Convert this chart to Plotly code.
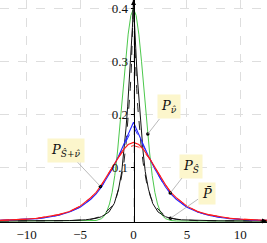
import numpy as np
import plotly.graph_objects as go

# ---- data (x >= 0 half, curves are symmetric about 0) ----
green_x = [0, 0.25, 0.5, 0.75, 1.0, 1.25, 1.5, 1.75, 2.0, 2.25, 2.5, 2.75, 3.0, 3.5, 4.0, 5.0, 12.5]
green_y = [0.400, 0.387, 0.352, 0.301, 0.242, 0.183, 0.130, 0.086, 0.054, 0.032, 0.018, 0.009, 0.0044, 0.0009, 0.0001, 0.0, 0.0]

black_x = [0, 0.05, 0.1, 0.2, 0.3, 0.4, 0.55, 0.7, 0.9, 1.1, 1.4, 1.8, 2.3, 3.0, 3.5, 4.5, 6, 8, 10, 12.5]
black_y = [0.42, 0.39, 0.365, 0.325, 0.29, 0.26, 0.215, 0.175, 0.13, 0.093, 0.06, 0.033, 0.017, 0.008, 0.005, 0.0022, 0.0008, 0.0003, 0.0001, 0.00005]

blackd_x = [0, 0.05, 0.1, 0.2, 0.3, 0.4, 0.5, 0.7, 0.9, 1.2, 1.6, 2.0, 3.0, 4.0, 6.0, 12.5]
blackd_y = [0.42, 0.37, 0.34, 0.29, 0.25, 0.215, 0.19, 0.145, 0.11, 0.075, 0.045, 0.028, 0.009, 0.003, 0.0006, 0.00005]

blue_x = [0, 0.3, 0.6, 1.0, 1.4, 2.0, 2.5, 3.0, 3.5, 4.0, 5.0, 6.0, 7.0, 8.0, 9.0, 10.0, 11.0, 12.5]
blue_y = [0.186, 0.172, 0.158, 0.140, 0.122, 0.098, 0.080, 0.064, 0.051, 0.041, 0.026, 0.017, 0.011, 0.007, 0.0045, 0.003, 0.002, 0.0011]
blued_y = [0.178, 0.166, 0.154, 0.137, 0.121, 0.098, 0.080, 0.064, 0.051, 0.041, 0.026, 0.017, 0.011, 0.007, 0.0045, 0.003, 0.002, 0.0011]

red_x = [0, 0.5, 1.0, 1.5, 2.0, 2.5, 3.0, 3.5, 4.0, 5.0, 6.0, 7.0, 8.0, 9.0, 10.0, 11.0, 12.5]
red_y = [0.148, 0.144, 0.133, 0.118, 0.101, 0.084, 0.068, 0.054, 0.044, 0.028, 0.018, 0.012, 0.008, 0.0053, 0.0035, 0.0023, 0.0012]
redd_y = [0.142, 0.139, 0.130, 0.117, 0.101, 0.084, 0.068, 0.054, 0.044, 0.028, 0.018, 0.012, 0.008, 0.0053, 0.0035, 0.0023, 0.0012]

x_ticks = [-10, -5, 0, 5, 10]
y_ticks = [0.1, 0.2, 0.3, 0.4]

# label anchors: (text, curve, x position of dot, ax, ay)
labels = [
    ("<i>P</i><sub><i>ν̂</i></sub>", "green", 1.34, 21, -27),
    ("<i>P</i><sub><i>Ŝ</i>+<i>ν̂</i></sub>", "red", -3.1, -34, -36),
    ("<i>P</i><sub><i>Ŝ</i></sub>", "blue", 3.44, 21, -27),
    ("<i>P̄</i>", "black", 3.47, 36, -25),
]


def mirror(xs, ys):
    xs = np.asarray(xs, float)
    ys = np.asarray(ys, float)
    return np.concatenate([-xs[:0:-1], xs]), np.concatenate([ys[:0:-1], ys])


curves = {
    "green": mirror(green_x, green_y),
    "black": mirror(black_x, black_y),
    "blackd": mirror(blackd_x, blackd_y),
    "blue": mirror(blue_x, blue_y),
    "blued": mirror(blue_x, blued_y),
    "red": mirror(red_x, red_y),
    "redd": mirror(red_x, redd_y),
}

styles = [
    ("green", "#4cc84c", "solid", 1.0),
    ("blackd", "#222222", "dash", 1.0),
    ("black", "#111111", "solid", 1.0),
    ("blued", "#3535ff", "dash", 1.0),
    ("blue", "#2626ff", "solid", 1.1),
    ("redd", "#ff3030", "dash", 1.0),
    ("red", "#ff1a1a", "solid", 1.1),
]

fig = go.Figure()
for key, col, dash, w in styles:
    cx, cy = curves[key]
    fig.add_trace(go.Scatter(x=cx, y=cy, mode="lines",
                             line=dict(color=col, width=w, dash=dash),
                             hoverinfo="skip", showlegend=False))

dot_x, dot_y = [], []
for text, key, px, ax, ay in labels:
    cx, cy = curves[key]
    py = float(np.interp(px, cx, cy))
    dot_x.append(px)
    dot_y.append(py)
    fig.add_annotation(x=px, y=py, xref="x", yref="y", text=text,
                       showarrow=True, ax=ax, ay=ay, arrowhead=0,
                       arrowwidth=0.8, arrowcolor="#a8a8a8",
                       bgcolor="#fcf6cc", borderpad=3,
                       font=dict(family="DejaVu Serif", size=13, color="#111"))

fig.add_trace(go.Scatter(x=dot_x, y=dot_y, mode="markers",
                         marker=dict(color="black", size=3.5),
                         hoverinfo="skip", showlegend=False))

# axis arrows
fig.add_annotation(x=12.5, y=0, xref="x", yref="y", ax=-8, ay=0, text="",
                   showarrow=True, arrowhead=2, arrowsize=1, arrowwidth=1, arrowcolor="black")
fig.add_annotation(x=0, y=0.4163, xref="x", yref="y", ax=0, ay=8, text="",
                   showarrow=True, arrowhead=2, arrowsize=1, arrowwidth=1, arrowcolor="black")

fig.update_layout(
    width=267, height=243,
    margin=dict(l=0, r=0, t=0, b=21, autoexpand=False),
    plot_bgcolor="white", paper_bgcolor="white",
    font=dict(family="Liberation Serif", size=13, color="#111"),
    xaxis=dict(range=[-12.5, 12.5], tickvals=x_ticks, showgrid=True,
               gridcolor="#dedede", griddash="dash", gridwidth=1,
               showline=True, linecolor="black", linewidth=1,
               zeroline=False, ticks="", fixedrange=True, automargin=False),
    yaxis=dict(range=[-0.0019, 0.4163], tickvals=y_ticks, showgrid=True,
               gridcolor="#dedede", griddash="dash", gridwidth=1,
               anchor="free", position=0.5, showline=True, linecolor="black",
               linewidth=1, zeroline=False, ticks="outside", ticklen=3,
               tickcolor="black", fixedrange=True, automargin=False),
)

fig.write_html("out.html", config={"displayModeBar": False},
               post_script="document.body.style.margin='0';document.body.style.overflow='hidden';")
